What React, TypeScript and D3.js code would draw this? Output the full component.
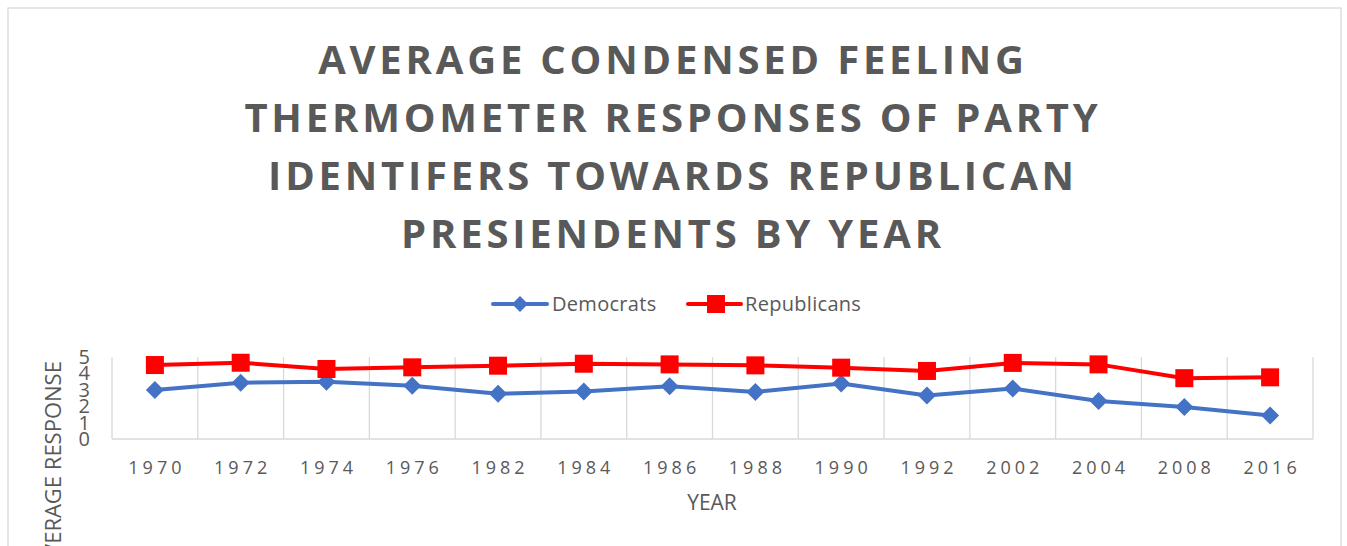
import React from "react";
import * as d3 from "d3";

const years = ["1970","1972","1974","1976","1982","1984","1986","1988","1990","1992","2002","2004","2008","2016"];
const democrats = [2.99,3.43,3.49,3.25,2.76,2.89,3.21,2.87,3.39,2.65,3.08,2.32,1.95,1.43];
const republicans = [4.51,4.65,4.27,4.37,4.47,4.59,4.55,4.49,4.35,4.15,4.64,4.55,3.71,3.76];
const yTicks = [0,1,2,3,4,5];
const titleLines = ["AVERAGE CONDENSED FEELING","THERMOMETER RESPONSES OF PARTY","IDENTIFERS TOWARDS REPUBLICAN","PRESIENDENTS BY YEAR"];

const W = 1347, H = 546;
const plot = { left: 112, right: 1313, top: 357, bottom: 439 };
const BLUE = "#4472C4", RED = "#FF0000", GRAY = "#595959", GRID = "#d9d9d9";
const FONT = "'Open Sans', sans-serif";

export default function App() {
  const x = d3.scaleBand<string>().domain(years).range([plot.left, plot.right]).padding(0);
  const y = d3.scaleLinear().domain([0, 5]).range([plot.bottom, plot.top]);
  const cx = (yr: string) => (x(yr) as number) + x.bandwidth() / 2;
  const line = d3.line<number>().x((_, i) => cx(years[i])).y(d => y(d));
  const diamond = (px: number, py: number, r: number) => `M${px},${py - r}L${px + r},${py}L${px},${py + r}L${px - r},${py}Z`;
  const boundaries = d3.range(years.length + 1).map(i => plot.left + i * x.bandwidth());

  return (
    <svg width={W} height={H} style={{ position: "absolute", left: 0, top: 0, background: "#fff" }}>
      <rect x={8} y={8} width={1333} height={600} fill="#fff" stroke={GRID} strokeWidth={1.3} />
      {titleLines.map((t, i) => (
        <text key={i} x={673} y={74 + i * 58} textAnchor="middle" fontFamily={FONT} fontWeight={700}
          fontSize={40} letterSpacing={3.8} fill={GRAY}>{t}</text>
      ))}
      {/* legend */}
      <g fontFamily={FONT} fontSize={20} fill={GRAY} letterSpacing={0.3}>
        <line x1={493} x2={547} y1={304} y2={304} stroke={BLUE} strokeWidth={4} strokeLinecap="round" />
        <path d={diamond(520, 304, 8)} fill={BLUE} />
        <text x={552} y={311}>Democrats</text>
        <line x1={688} x2={741} y1={304} y2={304} stroke={RED} strokeWidth={4} strokeLinecap="round" />
        <rect x={707} y={295} width={18} height={18} fill={RED} />
        <text x={745} y={311}>Republicans</text>
      </g>
      {/* gridlines */}
      {boundaries.map((bx, i) => (
        <line key={i} x1={bx} x2={bx} y1={plot.top} y2={plot.bottom} stroke={GRID} strokeWidth={1.3} />
      ))}
      <line x1={plot.left} x2={plot.right} y1={plot.bottom} y2={plot.bottom} stroke={GRID} strokeWidth={1.3} />
      {/* y ticks */}
      {yTicks.map(t => (
        <text key={t} x={90} y={y(t) + 7} textAnchor="end" fontFamily={FONT} fontSize={20} fill={GRAY}>{t}</text>
      ))}
      {/* x ticks */}
      {years.map(yr => (
        <text key={yr} x={cx(yr) + 2} y={474} textAnchor="middle" fontFamily={FONT} fontSize={18} letterSpacing={4} fill={GRAY}>{yr}</text>
      ))}
      <text x={712} y={510} textAnchor="middle" fontFamily={FONT} fontSize={21} fill={GRAY}>YEAR</text>
      <text transform="translate(61,466) rotate(-90)" textAnchor="middle" fontFamily={FONT} fontSize={22} fill={GRAY}>AVERAGE RESPONSE</text>
      {/* series */}
      <path d={line(democrats) || ""} fill="none" stroke={BLUE} strokeWidth={4} strokeLinejoin="round" />
      <path d={line(republicans) || ""} fill="none" stroke={RED} strokeWidth={4} strokeLinejoin="round" />
      {democrats.map((v, i) => (
        <path key={i} d={diamond(cx(years[i]), y(v), 9)} fill={BLUE} />
      ))}
      {republicans.map((v, i) => (
        <rect key={i} x={cx(years[i]) - 9} y={y(v) - 9} width={18} height={18} fill={RED} />
      ))}
    </svg>
  );
}
